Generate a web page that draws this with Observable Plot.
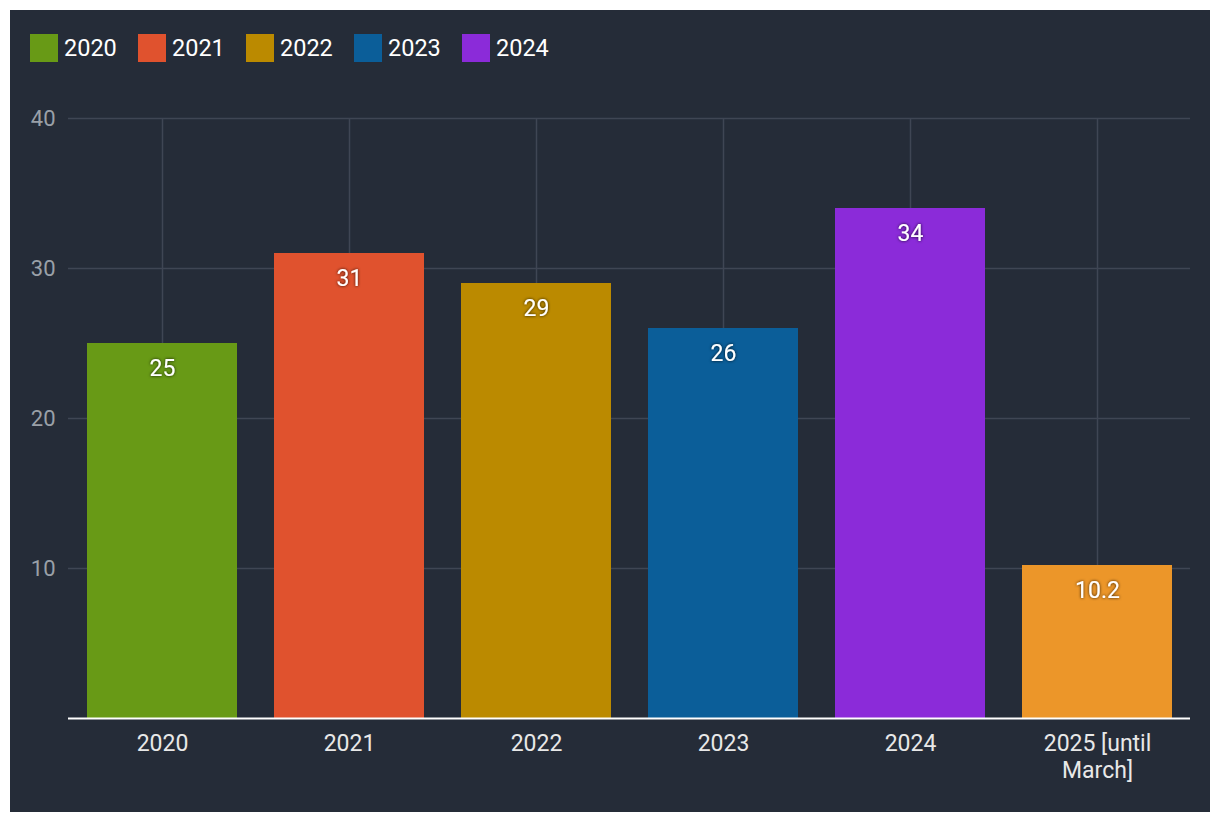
<!DOCTYPE html>
<html><head><meta charset="utf-8">
<script src="https://cdn.jsdelivr.net/npm/d3@7"></script>
<script src="https://cdn.jsdelivr.net/npm/@observablehq/plot@0.6"></script>
<style>
html,body{margin:0;padding:0;background:#fff;}
#frame{position:absolute;left:10px;top:10px;width:1200px;height:802px;background:#252c38;font-family:Roboto,sans-serif;overflow:hidden;}
#legend{position:absolute;left:0;top:0;width:1200px;height:70px;}
.item{position:absolute;top:24px;height:28px;display:flex;align-items:center;}
.sw{width:28px;height:28px;margin-right:6px;}
.lab{color:#fff;font-size:23.5px;line-height:28px;}
#chart{position:absolute;left:0;top:70px;}
</style></head>
<body><div id="frame"><div id="legend"></div><div id="chart"></div></div>
<script>
const categories = ["2020","2021","2022","2023","2024","2025 [until March]"];
const values = [25, 31, 29, 26, 34, 10.2];
const barColors = ["#689a16","#e0522e","#bb8a00","#0b5e99","#8b2bd9","#ec9629"];
const legendLabels = ["2020","2021","2022","2023","2024"];
const legendColors = ["#689a16","#e0522e","#bb8a00","#0b5e99","#8b2bd9"];
const yTicks = [10, 20, 30, 40];
const xLabels = {"2025 [until March]": "2025 [until\nMarch]"};

const data = categories.map((c, i) => ({cat: c, value: values[i], color: barColors[i]}));

// legend
const legend = document.getElementById("legend");
legendLabels.forEach((l, i) => {
  const it = document.createElement("div");
  it.className = "item";
  it.style.left = (20 + i * 108) + "px";
  it.innerHTML = `<div class="sw" style="background:${legendColors[i]}"></div><span class="lab">${l}</span>`;
  legend.appendChild(it);
});

const chart = Plot.plot({
  width: 1200,
  height: 732,
  marginTop: 38,
  marginBottom: 94,
  marginLeft: 58,
  marginRight: 20,
  style: {background: "transparent", fontFamily: "Roboto, sans-serif", overflow: "visible"},
  x: {domain: categories, paddingInner: 0.2, paddingOuter: 0.1, axis: null, label: null},
  y: {domain: [0, 40], axis: null, label: null},
  color: {type: "identity"},
  marks: [
    Plot.gridY(yTicks, {stroke: "#3f4654", strokeOpacity: 1, strokeWidth: 1.5}),
    Plot.gridX(categories, {stroke: "#3f4654", strokeOpacity: 1, strokeWidth: 1.5}),
    Plot.barY(data, {x: "cat", y: "value", fill: "color"}),
    Plot.ruleY([0], {stroke: "#ffffff", strokeWidth: 2}),
    Plot.text(data, {x: "cat", y: "value", text: d => String(d.value), dy: 25, fill: "#ffffff", fontSize: 23}),
    Plot.axisY(yTicks, {tickSize: 0, tickPadding: 13, fontSize: 22, fill: "#9aa0a8", label: null}),
    Plot.axisX(categories, {tickSize: 0, tickPadding: 14, fontSize: 23, fill: "#e8e8e8", lineHeight: 1.15, label: null, tickFormat: d => xLabels[d] || d})
  ]
});

const svg = d3.select(chart);
const defs = svg.insert("defs", ":first-child");
const f = defs.append("filter").attr("id", "tshadow").attr("x", "-20%").attr("y", "-20%").attr("width", "140%").attr("height", "140%");
f.append("feDropShadow").attr("dx", 0).attr("dy", 0).attr("stdDeviation", 1.6).attr("flood-color", "#000").attr("flood-opacity", 0.85);
svg.selectAll('g[aria-label="text"]').attr("filter", "url(#tshadow)");

document.getElementById("chart").appendChild(chart);
</script>
</body></html>
